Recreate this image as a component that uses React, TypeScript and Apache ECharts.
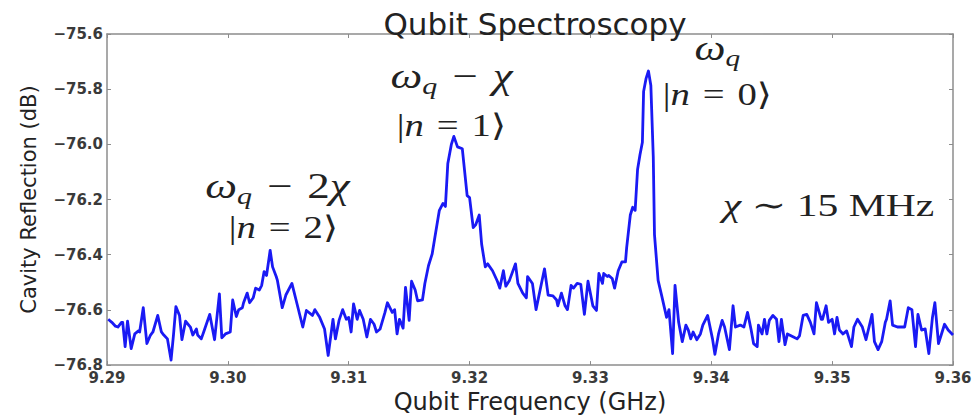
import React, { useEffect, useRef } from "react";
import * as echarts from "echarts";

// ---- Data ----
const freqGHz = [
  9.2901, 9.2904, 9.2907, 9.2909, 9.2912, 9.2913, 9.2915, 9.2917, 9.2920, 9.2923,
  9.2926, 9.2927, 9.2930, 9.2933, 9.2936, 9.2938, 9.2942, 9.2945, 9.2947, 9.2950,
  9.2953, 9.2955, 9.2957, 9.2960, 9.2962, 9.2965, 9.2969, 9.2971, 9.2974, 9.2975,
  9.2978, 9.2980, 9.2985, 9.2989, 9.2993, 9.2995, 9.2998, 9.3002, 9.3004, 9.3007,
  9.3009, 9.3012, 9.3013, 9.3016, 9.3018, 9.3021, 9.3023, 9.3026, 9.3028, 9.3030,
  9.3032, 9.3035, 9.3037, 9.3040, 9.3041, 9.3045, 9.3048, 9.3053, 9.3057, 9.3062,
  9.3065, 9.3070, 9.3072, 9.3076, 9.3080, 9.3083, 9.3087, 9.3089, 9.3092, 9.3095,
  9.3098, 9.3100, 9.3102, 9.3104, 9.3107, 9.3109, 9.3112, 9.3115, 9.3118, 9.3121,
  9.3123, 9.3126, 9.3130, 9.3132, 9.3136, 9.3138, 9.3140, 9.3142, 9.3145, 9.3147,
  9.3150, 9.3152, 9.3155, 9.3157, 9.3161, 9.3163, 9.3166, 9.3169, 9.3171, 9.3175,
  9.3178, 9.3180, 9.3182, 9.3185, 9.3187, 9.3190, 9.3194, 9.3198, 9.3200, 9.3203,
  9.3205, 9.3208, 9.3210, 9.3213, 9.3215, 9.3219, 9.3223, 9.3225, 9.3228, 9.3230,
  9.3233, 9.3238, 9.3240, 9.3244, 9.3247, 9.3248, 9.3252, 9.3255, 9.3259, 9.3262,
  9.3265, 9.3269, 9.3272, 9.3273, 9.3276, 9.3279, 9.3281, 9.3284, 9.3286, 9.3289,
  9.3292, 9.3295, 9.3298, 9.3302, 9.3305, 9.3307, 9.3310, 9.3311, 9.3314, 9.3315,
  9.3318, 9.3320, 9.3323, 9.3326, 9.3329, 9.3330, 9.3333, 9.3335, 9.3337, 9.3339,
  9.3341, 9.3343, 9.3344, 9.3346, 9.3348, 9.3350, 9.3352, 9.3353, 9.3356, 9.3359,
  9.3363, 9.3365, 9.3368, 9.3370, 9.3373, 9.3376, 9.3379, 9.3381, 9.3383, 9.3385,
  9.3388, 9.3391, 9.3393, 9.3397, 9.3401, 9.3403, 9.3406, 9.3409, 9.3411, 9.3415,
  9.3418, 9.3420, 9.3424, 9.3427, 9.3430, 9.3433, 9.3435, 9.3438, 9.3439, 9.3442,
  9.3444, 9.3446, 9.3448, 9.3451, 9.3454, 9.3456, 9.3458, 9.3461, 9.3463, 9.3468,
  9.3471, 9.3473, 9.3476, 9.3479, 9.3482, 9.3485, 9.3487, 9.3491, 9.3492, 9.3495,
  9.3497, 9.3500, 9.3502, 9.3504, 9.3506, 9.3509, 9.3512, 9.3516, 9.3518, 9.3521,
  9.3525, 9.3528, 9.3533, 9.3535, 9.3538, 9.3541, 9.3544, 9.3545, 9.3548, 9.3550,
  9.3554, 9.3558, 9.3560, 9.3563, 9.3566, 9.3569, 9.3571, 9.3574, 9.3577, 9.3580,
  9.3583, 9.3585, 9.3588, 9.3591, 9.3593, 9.3596, 9.3600,
];

const reflectionDb = [
  -76.634, -76.645, -76.659, -76.662, -76.645, -76.645, -76.733, -76.641, -76.740, -76.687,
  -76.676, -76.680, -76.592, -76.722, -76.691, -76.680, -76.620, -76.680, -76.691, -76.705,
  -76.782, -76.691, -76.588, -76.620, -76.708, -76.641, -76.662, -76.691, -76.669, -76.691,
  -76.705, -76.680, -76.616, -76.708, -76.542, -76.701, -76.687, -76.680, -76.564, -76.624,
  -76.599, -76.592, -76.574, -76.539, -76.574, -76.556, -76.521, -76.528, -76.511, -76.461,
  -76.475, -76.384, -76.444, -76.479, -76.493, -76.592, -76.546, -76.504, -76.574, -76.662,
  -76.602, -76.620, -76.599, -76.627, -76.669, -76.765, -76.634, -76.705, -76.638, -76.599,
  -76.634, -76.627, -76.680, -76.578, -76.634, -76.602, -76.634, -76.698, -76.634, -76.652,
  -76.680, -76.669, -76.609, -76.574, -76.609, -76.599, -76.687, -76.634, -76.666, -76.518,
  -76.638, -76.496, -76.528, -76.567, -76.564, -76.504, -76.440, -76.398, -76.345, -76.239,
  -76.214, -76.225, -76.069, -75.999, -75.971, -76.009, -76.016, -76.186, -76.193, -76.302,
  -76.292, -76.256, -76.362, -76.444, -76.433, -76.458, -76.496, -76.521, -76.458, -76.514,
  -76.493, -76.433, -76.504, -76.539, -76.556, -76.479, -76.504, -76.599, -76.514, -76.451,
  -76.546, -76.549, -76.564, -76.585, -76.539, -76.585, -76.599, -76.511, -76.521, -76.504,
  -76.507, -76.616, -76.496, -76.585, -76.602, -76.468, -76.504, -76.468, -76.479, -76.475,
  -76.486, -76.521, -76.458, -76.426, -76.426, -76.373, -76.256, -76.228, -76.239, -76.091,
  -76.038, -75.992, -75.808, -75.762, -75.734, -75.787, -76.045, -76.327, -76.493, -76.549,
  -76.627, -76.599, -76.758, -76.511, -76.645, -76.715, -76.655, -76.673, -76.705, -76.680,
  -76.708, -76.687, -76.655, -76.620, -76.705, -76.761, -76.687, -76.638, -76.662, -76.744,
  -76.585, -76.662, -76.655, -76.662, -76.609, -76.673, -76.722, -76.733, -76.655, -76.687,
  -76.634, -76.687, -76.638, -76.620, -76.634, -76.715, -76.634, -76.726, -76.687, -76.698,
  -76.705, -76.694, -76.620, -76.616, -76.645, -76.687, -76.574, -76.634, -76.634, -76.585,
  -76.645, -76.634, -76.687, -76.627, -76.673, -76.687, -76.676, -76.733, -76.662, -76.634,
  -76.662, -76.708, -76.616, -76.715, -76.744, -76.715, -76.645, -76.634, -76.567, -76.655,
  -76.662, -76.662, -76.662, -76.592, -76.599, -76.733, -76.616, -76.673, -76.669, -76.758,
  -76.627, -76.574, -76.722, -76.680, -76.652, -76.673, -76.691,
];

// Axis ranges / ticks
const xMin = 9.29;
const xMax = 9.36;
const xStep = 0.01;
const yMin = -76.8;
const yMax = -75.6;
const yStep = 0.2;

const titleText = "Qubit Spectroscopy";
const xAxisName = "Qubit Frequency (GHz)";
const yAxisName = "Cavity Reflection (dB)";

// Annotations (anchored in data units): pieces of math text
type Piece = { t: string; s: number; it?: boolean; dy?: number };
const SP = "\u2004"; // three-per-em space
const annotationTexts: { at: [number, number]; sx: number; pieces: Piece[] }[] = [
  { at: [9.3041, -76.150], sx: 1.25, pieces: [{ t: "ω", s: 36, it: true }, { t: "q", s: 24, it: true, dy: 10 }, { t: SP + "−" + SP + "2", s: 36 }, { t: "χ", s: 36, it: true }] },
  { at: [9.3046, -76.302], sx: 1.25, pieces: [{ t: "|", s: 31 }, { t: "n", s: 31, it: true }, { t: SP + "=" + SP + "2", s: 31 }, { t: "⟩", s: 31 }] },
  { at: [9.3185, -75.752], sx: 1.25, pieces: [{ t: "ω", s: 36, it: true }, { t: "q", s: 24, it: true, dy: 10 }, { t: SP + "−" + SP, s: 36 }, { t: "χ", s: 36, it: true }] },
  { at: [9.3185, -75.932], sx: 1.25, pieces: [{ t: "|", s: 31 }, { t: "n", s: 31, it: true }, { t: SP + "=" + SP + "1", s: 31 }, { t: "⟩", s: 31 }] },
  { at: [9.3405, -75.650], sx: 1.22, pieces: [{ t: "ω", s: 36, it: true }, { t: "q", s: 24, it: true, dy: 10 }] },
  { at: [9.3405, -75.822], sx: 1.25, pieces: [{ t: "|", s: 31 }, { t: "n", s: 31, it: true }, { t: SP + "=" + SP + "0", s: 31 }, { t: "⟩", s: 31 }] },
  { at: [9.3497, -76.222], sx: 1.3, pieces: [{ t: "χ", s: 32, it: true }, { t: " ∼ 15 MHz", s: 32 }] },
];

const MATH_FONT = '"Liberation Serif", "DejaVu Serif", serif';
const SANS = '"DejaVu Sans", sans-serif';
const FRAME = "#8c8c8c";

function buildMath(pieces: Piece[], x: number, y: number, sx: number, ctx: CanvasRenderingContext2D | null) {
  const widths = pieces.map((p) => {
    if (!ctx) return p.s * 0.5 * p.t.length;
    ctx.font = `${p.it ? "italic " : ""}${p.s}px ${MATH_FONT}`;
    return ctx.measureText(p.t).width;
  });
  const total = widths.reduce((a, b) => a + b, 0);
  let cx = -total / 2;
  const children = pieces.map((p, i) => {
    const el = {
      type: "text",
      x: cx,
      y: p.dy || 0,
      style: {
        text: p.t,
        fontSize: p.s,
        fontFamily: MATH_FONT,
        fontStyle: p.it ? "italic" : "normal",
        fill: "#222",
        align: "left",
        verticalAlign: "middle",
        textAlign: "left",
        textVerticalAlign: "middle",
      },
    };
    cx += widths[i];
    return el;
  });
  return { type: "group", x, y, scaleX: sx, silent: true, z: 10, children };
}

function makeAxisCommon() {
  return {
    type: "value" as const,
    axisLine: { show: true, onZero: false, lineStyle: { color: FRAME, width: 1.5 } },
    axisTick: { show: true, inside: true, length: 4, lineStyle: { color: FRAME, width: 1 } },
    splitLine: { show: false },
  };
}

export default function App() {
  const ref = useRef<HTMLDivElement>(null);

  useEffect(() => {
    if (!ref.current) return;
    const chart = echarts.init(ref.current, undefined, { renderer: "svg" });
    const n = Math.min(freqGHz.length, reflectionDb.length);
    const data: [number, number][] = [];
    for (let i = 0; i < n; i++) data.push([freqGHz[i], reflectionDb[i]]);

    const labelStyle = { fontSize: 15, fontWeight: "bold" as const, color: "#3a3a3a", fontFamily: SANS };

    chart.setOption({
      animation: false,
      backgroundColor: "#ffffff",
      title: {
        text: titleText,
        left: 530,
        textAlign: "center",
        top: 3,
        textStyle: { fontSize: 31, fontWeight: "normal", color: "#222", fontFamily: SANS },
      },
      grid: { left: 107, right: 24, top: 34, bottom: 45, containLabel: false },
      xAxis: [
        {
          ...makeAxisCommon(),
          position: "bottom",
          min: xMin,
          max: xMax,
          interval: xStep,
          axisLabel: { ...labelStyle, margin: 5, showMinLabel: true, showMaxLabel: true, formatter: (v: number) => v.toFixed(2) },
          name: xAxisName,
          nameLocation: "middle",
          nameGap: 16,
          nameTextStyle: { fontSize: 24, color: "#222", fontFamily: SANS },
        },
        {
          ...makeAxisCommon(),
          position: "top",
          min: xMin,
          max: xMax,
          interval: xStep,
          axisLabel: { show: false },
        },
      ],
      yAxis: [
        {
          ...makeAxisCommon(),
          position: "left",
          min: yMin,
          max: yMax,
          interval: yStep,
          axisLabel: { ...labelStyle, margin: 4, showMinLabel: true, showMaxLabel: true, formatter: (v: number) => v.toFixed(1).replace("-", "−") },
          name: yAxisName,
          nameLocation: "middle",
          nameRotate: 90,
          nameGap: 68,
          nameTextStyle: { fontSize: 21, color: "#222", fontFamily: SANS },
        },
        {
          ...makeAxisCommon(),
          position: "right",
          min: yMin,
          max: yMax,
          interval: yStep,
          axisLabel: { show: false },
        },
      ],
      series: [
        {
          type: "line",
          xAxisIndex: 0,
          yAxisIndex: 0,
          data,
          showSymbol: false,
          symbol: "none",
          lineStyle: { color: "#1a1af4", width: 2.8, join: "round" },
          z: 3,
        },
      ],
    });

    const ctx = document.createElement("canvas").getContext("2d");
    const graphics = annotationTexts.map((a) => {
      const p = chart.convertToPixel({ gridIndex: 0 }, a.at) as number[];
      return buildMath(a.pieces, p[0], p[1], a.sx, ctx);
    });
    chart.setOption({ graphic: graphics });

    return () => chart.dispose();
  }, []);

  return (
    <div
      ref={ref}
      style={{ position: "fixed", left: 0, top: 0, width: 977, height: 419, background: "#fff" }}
    />
  );
}
